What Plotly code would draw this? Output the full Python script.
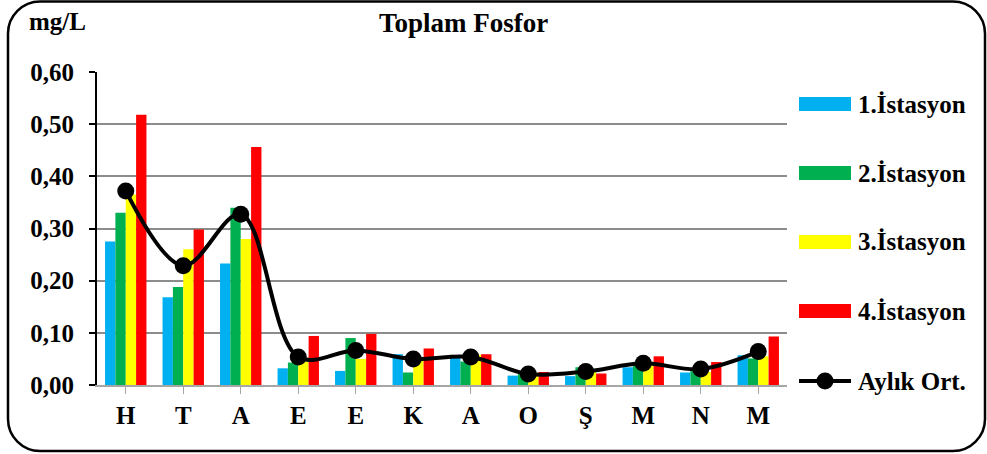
import plotly.graph_objects as go

months = ["H", "T", "A", "E", "E", "K", "A", "O", "Ş", "M", "N", "M"]
ist1 = [0.275, 0.168, 0.233, 0.032, 0.027, 0.059, 0.053, 0.018, 0.017, 0.034, 0.024, 0.057]
ist2 = [0.330, 0.188, 0.340, 0.043, 0.090, 0.024, 0.045, 0.022, 0.034, 0.040, 0.029, 0.051]
ist3 = [0.365, 0.260, 0.280, 0.045, 0.050, 0.046, 0.058, 0.020, 0.030, 0.037, 0.025, 0.055]
ist4 = [0.518, 0.298, 0.456, 0.094, 0.098, 0.070, 0.059, 0.025, 0.022, 0.055, 0.044, 0.093]
aylik = [round((a + b + c + d) / 4, 4) for a, b, c, d in zip(ist1, ist2, ist3, ist4)]

series_names = ["1.İstasyon", "2.İstasyon", "3.İstasyon", "4.İstasyon"]
colors = ["#00B0F0", "#00B050", "#FFFF00", "#FF0000"]
avg_name = "Aylık Ort."
yticks = [0.0, 0.1, 0.2, 0.3, 0.4, 0.5, 0.6]

W, H = 987, 454
L, R, T, B = 97, 200, 72, 69
PW, PH = W - L - R, H - T - B

def px(x):
    return (x - L) / PW

def py(y):
    return (H - B - y) / PH

FONT = "Liberation Serif"
FS = 25
x_idx = list(range(len(months)))

fig = go.Figure()
for name, vals, col in zip(series_names, [ist1, ist2, ist3, ist4], colors):
    fig.add_trace(go.Bar(x=x_idx, y=vals, name=name, marker=dict(color=col, line=dict(width=0)),
                         showlegend=False))
fig.add_trace(go.Scatter(x=x_idx, y=aylik, name=avg_name, mode="lines+markers",
                         line=dict(color="black", width=4, shape="spline", smoothing=1.0),
                         marker=dict(color="black", size=17), showlegend=False))

shapes = []
annotations = []

# rounded outer frame
x0, x1, y0, y1, r = 8, 985, 1.5, 451, 32
def P(x, y):
    return f"{px(x):.5f},{py(y):.5f}"
k = 0.45
path = (f"M {P(x0 + r, y0)} L {P(x1 - r, y0)} C {P(x1 - r * k, y0)} {P(x1, y0 + r * k)} {P(x1, y0 + r)} "
        f"L {P(x1, y1 - r)} C {P(x1, y1 - r * k)} {P(x1 - r * k, y1)} {P(x1 - r, y1)} "
        f"L {P(x0 + r, y1)} C {P(x0 + r * k, y1)} {P(x0, y1 - r * k)} {P(x0, y1 - r)} "
        f"L {P(x0, y0 + r)} C {P(x0, y0 + r * k)} {P(x0 + r * k, y0)} {P(x0 + r, y0)} Z")
shapes.append(dict(type="path", xref="paper", yref="paper", path=path,
                   line=dict(color="black", width=2.5), layer="below"))

# legend
leg_y = [104, 173, 242, 311]
for name, col, yy in zip(series_names, colors, leg_y):
    shapes.append(dict(type="rect", xref="paper", yref="paper", x0=px(799), x1=px(851),
                       y0=py(yy + 7), y1=py(yy - 7), fillcolor=col, line=dict(width=0)))
    annotations.append(dict(xref="paper", yref="paper", x=px(856), y=py(yy), text=f"<b>{name}</b>",
                            showarrow=False, xanchor="left", yanchor="middle",
                            font=dict(family=FONT, size=FS, color="black")))
ly = 381
shapes.append(dict(type="line", xref="paper", yref="paper", x0=px(799), x1=px(851), y0=py(ly), y1=py(ly),
                   line=dict(color="black", width=4)))
shapes.append(dict(type="circle", xref="paper", yref="paper", x0=px(816.5), x1=px(833.5), y0=py(ly + 8.5), y1=py(ly - 8.5),
                   fillcolor="black", line=dict(color="black", width=0)))
annotations.append(dict(xref="paper", yref="paper", x=px(856), y=py(ly), text=f"<b>{avg_name}</b>",
                        showarrow=False, xanchor="left", yanchor="middle",
                        font=dict(family=FONT, size=FS, color="black")))

# title and unit
annotations.append(dict(xref="paper", yref="paper", x=px(463), y=py(23), text="<b>Toplam Fosfor</b>",
                        showarrow=False, xanchor="center", yanchor="middle",
                        font=dict(family=FONT, size=27, color="black")))
annotations.append(dict(xref="paper", yref="paper", x=px(27), y=py(22), text="<b>mg/L</b>",
                        showarrow=False, xanchor="left", yanchor="middle",
                        font=dict(family=FONT, size=FS, color="black")))

fig.update_layout(
    width=W, height=H, margin=dict(l=L, r=R, t=T, b=B),
    paper_bgcolor="white", plot_bgcolor="white",
    barmode="group", bargap=0.28, bargroupgap=0,
    separators=",.",
    showlegend=False,
    shapes=shapes, annotations=annotations,
    xaxis=dict(tickmode="array", tickvals=x_idx, ticktext=months,
               range=[-0.5, len(months) - 0.5], showgrid=False,
               showline=True, linecolor="#A6A6A6", linewidth=1.5,
               ticks="outside", tickson="boundaries", ticklen=7, tickcolor="#A6A6A6",
               tickfont=dict(family=FONT, size=FS, color="black", weight="bold"),
               zeroline=False, fixedrange=True),
    yaxis=dict(range=[0, 0.6], tickvals=yticks, tickformat=".2f",
               showgrid=True, gridcolor="#8C8C8C", gridwidth=2,
               showline=True, linecolor="black", linewidth=2,
               ticks="outside", ticklen=6, tickcolor="black", tickwidth=2,
               ticklabelstandoff=10,
               tickfont=dict(family=FONT, size=FS, color="black", weight="bold"),
               zeroline=False, fixedrange=True),
)

fig.write_html("out.html", config={"displayModeBar": False},
               post_script="document.body.style.margin='0';document.body.style.overflow='hidden';")
